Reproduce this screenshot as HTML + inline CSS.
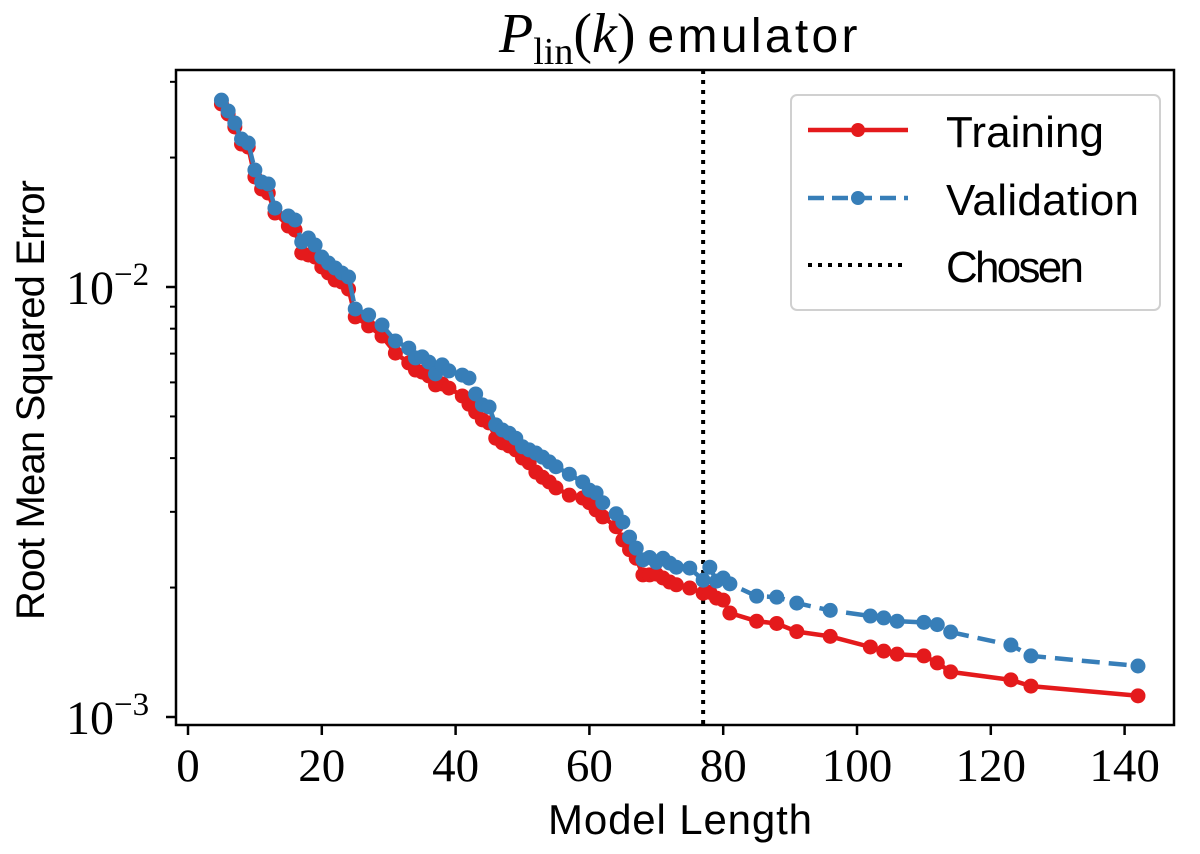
<!DOCTYPE html>
<html><head><meta charset="utf-8"><style>
html,body{margin:0;padding:0;background:#fff;}
svg{display:block;}
</style></head><body>
<svg id="chart" width="1200" height="854" viewBox="0 0 1200 854" xmlns="http://www.w3.org/2000/svg">
<g id="plot"></g>
<rect x="176" y="70" width="998" height="655" fill="none" stroke="#000" stroke-width="2.5"/>
<text x="499" y="52" font-family="Liberation Serif, serif" font-size="56"><tspan font-style="italic">P</tspan><tspan font-size="38" dy="12">lin</tspan><tspan dy="-12">(</tspan><tspan font-style="italic">k</tspan><tspan>)</tspan><tspan font-family="Liberation Sans, sans-serif" font-size="48" dx="12" textLength="210">emulator</tspan></text>
<text x="680" y="834" text-anchor="middle" font-family="Liberation Sans, sans-serif" font-size="42" textLength="264">Model Length</text>
<text transform="translate(44,400) rotate(-90)" text-anchor="middle" font-family="Liberation Sans, sans-serif" font-size="40" textLength="440">Root Mean Squared Error</text>
<g id="legend">
<rect x="791" y="95" width="369" height="215" rx="6" fill="#fff" fill-opacity="0.85" stroke="#d0d0d0" stroke-width="2"/>
<g>
<line x1="808" y1="130" x2="908" y2="130" stroke="#e41a1c" stroke-width="4.5"/>
<circle cx="858" cy="130" r="7" fill="#e41a1c"/>
<text x="946" y="147" font-family="Liberation Sans, sans-serif" font-size="44" textLength="158">Training</text>
</g>
<g>
<line x1="808" y1="198" x2="908" y2="198" stroke="#377eb8" stroke-width="4.5" stroke-dasharray="16,8"/>
<circle cx="858" cy="198" r="7" fill="#377eb8"/>
<text x="946" y="215" font-family="Liberation Sans, sans-serif" font-size="44" textLength="193">Validation</text>
</g>
<g>
<line x1="808" y1="265" x2="908" y2="265" stroke="#000" stroke-width="4" stroke-dasharray="4,6"/>
<text x="946" y="282" font-family="Liberation Sans, sans-serif" font-size="44" textLength="138">Chosen</text>
</g>
</g>
</svg>
<script>
const modelLength = [5,6,7,8,9,10,11,12,13,15,16,17,18,19,20,21,22,23,24,25,27,29,31,33,34,35,36,37,38,39,41,42,43,44,45,46,47,48,49,50,51,52,53,54,55,57,59,60,61,62,64,65,66,67,68,69,70,71,72,73,75,77,78,79,80,81,85,88,91,96,102,104,106,110,112,114,123,126,142];
const trainingRMSE = [2.665e-2,2.526e-2,2.356e-2,2.150e-2,2.116e-2,1.803e-2,1.690e-2,1.654e-2,1.486e-2,1.386e-2,1.357e-2,1.200e-2,1.187e-2,1.174e-2,1.113e-2,1.078e-2,1.038e-2,1.027e-2,0.989e-2,0.852e-2,0.812e-2,0.769e-2,0.702e-2,0.666e-2,0.641e-2,0.634e-2,0.621e-2,0.592e-2,0.595e-2,0.582e-2,0.558e-2,0.534e-2,0.512e-2,0.491e-2,0.483e-2,0.445e-2,0.434e-2,0.427e-2,0.418e-2,0.400e-2,0.390e-2,0.371e-2,0.361e-2,0.352e-2,0.341e-2,0.328e-2,0.323e-2,0.315e-2,0.303e-2,0.292e-2,0.277e-2,0.258e-2,0.245e-2,0.234e-2,0.214e-2,0.214e-2,0.215e-2,0.2105e-2,0.206e-2,0.203e-2,0.1995e-2,0.194e-2,0.195e-2,0.189e-2,0.187e-2,0.1745e-2,0.167e-2,0.165e-2,0.158e-2,0.154e-2,0.1455e-2,0.1423e-2,0.140e-2,0.1387e-2,0.1336e-2,0.1273e-2,0.122e-2,0.118e-2,0.112e-2];
const validationRMSE = [2.72e-2,2.567e-2,2.406e-2,2.209e-2,2.162e-2,1.871e-2,1.755e-2,1.736e-2,1.526e-2,1.463e-2,1.432e-2,1.273e-2,1.300e-2,1.252e-2,1.174e-2,1.137e-2,1.107e-2,1.078e-2,1.055e-2,0.889e-2,0.861e-2,0.816e-2,0.749e-2,0.721e-2,0.684e-2,0.688e-2,0.669e-2,0.628e-2,0.659e-2,0.638e-2,0.624e-2,0.614e-2,0.564e-2,0.532e-2,0.526e-2,0.478e-2,0.465e-2,0.457e-2,0.445e-2,0.425e-2,0.418e-2,0.411e-2,0.402e-2,0.392e-2,0.382e-2,0.367e-2,0.352e-2,0.337e-2,0.332e-2,0.315e-2,0.297e-2,0.284e-2,0.262e-2,0.247e-2,0.232e-2,0.235e-2,0.229e-2,0.234e-2,0.228e-2,0.223e-2,0.222e-2,0.208e-2,0.223e-2,0.207e-2,0.2105e-2,0.204e-2,0.191e-2,0.190e-2,0.184e-2,0.177e-2,0.1717e-2,0.170e-2,0.167e-2,0.166e-2,0.164e-2,0.1576e-2,0.147e-2,0.1387e-2,0.1314e-2];
const chosenLength = 77;
const xTicks = [0,20,40,60,80,100,120,140];
const yMajorTicks = [1e-3,1e-2];
const yMajorExp = ["−3","−2"];
const yMinorTicks = [2e-3,3e-3,4e-3,5e-3,6e-3,7e-3,8e-3,9e-3,2e-2,3e-2];

const NS = "http://www.w3.org/2000/svg";
const L=176, R=1174, T=70, B=725;
function xs(v){ return 188 + v*6.69; }
function ys(v){ return 287 - (Math.log10(v) + 2) * 430; }
const plot = document.getElementById('plot');
const svg = document.getElementById('chart');
function mk(tag, attrs, parent){
  const e = document.createElementNS(NS, tag);
  for (const k in attrs) e.setAttribute(k, attrs[k]);
  (parent||plot).appendChild(e);
  return e;
}
xTicks.forEach(v=>{
  const t = mk('line',{x1:xs(v),x2:xs(v),y1:B,y2:B+10,stroke:'#000','stroke-width':2.5},svg);
  
  
  const lb = mk('text',{x:xs(v),y:781,'text-anchor':'middle','font-family':'Liberation Serif, serif','font-size':47},svg);
  
  
  lb.textContent = v;
});
yMajorTicks.forEach((v,i)=>{
  const t = mk('line',{x1:L-10,x2:L,y1:ys(v),y2:ys(v),stroke:'#000','stroke-width':2.5},svg);
  
  
  const lb = mk('text',{x:66,y:ys(v)+17,'font-family':'Liberation Serif, serif','font-size':48},svg);
  
  
  const a = document.createElementNS(NS,'tspan'); a.textContent='10'; lb.appendChild(a);
  const b = document.createElementNS(NS,'tspan'); b.setAttribute('dy','-19'); b.setAttribute('font-size','33'); b.textContent=yMajorExp[i]; lb.appendChild(b);
});
yMinorTicks.forEach(v=>{
  const t = mk('line',{x1:L-6,x2:L,y1:ys(v),y2:ys(v),stroke:'#000','stroke-width':2},svg);
  
  
});
const ch = mk('line',{x1:xs(chosenLength),x2:xs(chosenLength),y1:T,y2:B,stroke:'#000','stroke-width':4,'stroke-dasharray':'4,6'});


function series(vals, color, dash, name){
  const pts = modelLength.map((x,i)=>xs(x).toFixed(1)+','+ys(vals[i]).toFixed(1)).join(' ');
  const pl = mk('polyline',{points:pts,fill:'none',stroke:color,'stroke-width':4.5,'stroke-linejoin':'round'});
  if (dash) pl.setAttribute('stroke-dasharray', dash);
  
  
  modelLength.forEach((x,i)=>{
    const c = mk('circle',{cx:xs(x),cy:ys(vals[i]),r:7.5,fill:color});
    
    
  });
}
series(trainingRMSE,'#e41a1c',null,'training');
series(validationRMSE,'#377eb8','18,9','validation');
</script>
</body></html>
